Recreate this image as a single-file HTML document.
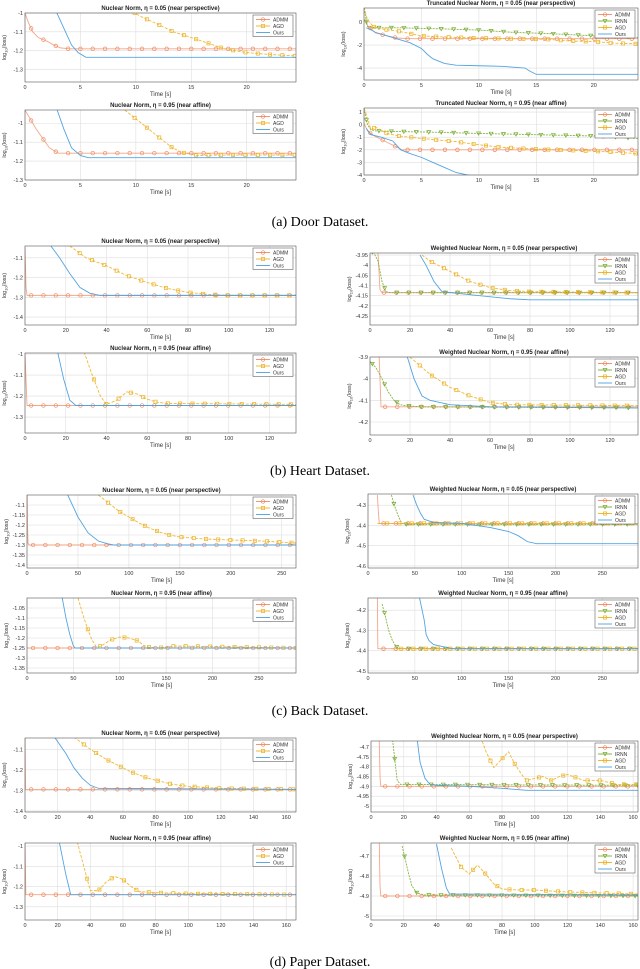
<!DOCTYPE html>
<html><head><meta charset="utf-8">
<style>
html,body{margin:0;padding:0;background:#fff;}
svg{display:block;}
</style></head>
<body>
<svg id="fig" width="640" height="969" viewBox="0 0 640 969" xmlns="http://www.w3.org/2000/svg" font-family="Liberation Sans, DejaVu Sans, sans-serif">
<text x="320" y="226" text-anchor="middle" font-family="Liberation Serif, serif" font-size="14">(a) Door Dataset.</text>
<text x="320" y="475" text-anchor="middle" font-family="Liberation Serif, serif" font-size="14">(b) Heart Dataset.</text>
<text x="320" y="715" text-anchor="middle" font-family="Liberation Serif, serif" font-size="14">(c) Back Dataset.</text>
<text x="320" y="966" text-anchor="middle" font-family="Liberation Serif, serif" font-size="14">(d) Paper Dataset.</text>
</svg>
<script>
// ---------- tick arrays ----------
const xticksDoor = [0,5,10,15,20];
const xticksHeart = [0,20,40,60,80,100,120];
const xticksBack = [0,50,100,150,200,250];
const xticksPaper = [0,20,40,60,80,100,120,140,160];
const yticksDoor1 = [-1,-1.1,-1.2,-1.3];
const yticksDoor2 = [-1,-1.1,-1.2,-1.3];
const yticksDoor3 = [0,-2,-4];
const yticksDoor4 = [1,0,-1,-2,-3,-4];
const yticksHeart1 = [-1.1,-1.2,-1.3,-1.4];
const yticksHeart2 = [-3.95,-4,-4.05,-4.1,-4.15,-4.2,-4.25];
const yticksHeart3 = [-1,-1.1,-1.2,-1.3];
const yticksHeart4 = [-3.9,-4,-4.1,-4.2];
const yticksBack1 = [-1.1,-1.15,-1.2,-1.25,-1.3,-1.35,-1.4];
const yticksBack2 = [-4.3,-4.4,-4.5,-4.6];
const yticksBack3 = [-1.05,-1.1,-1.15,-1.2,-1.25,-1.3,-1.35];
const yticksBack4 = [-4.2,-4.3,-4.4,-4.5];
const yticksPaper1 = [-1.1,-1.2,-1.3,-1.4];
const yticksPaper2 = [-4.7,-4.75,-4.8,-4.85,-4.9,-4.95,-5];
const yticksPaper3 = [-1,-1.1,-1.2,-1.3];
const yticksPaper4 = [-4.7,-4.8,-4.9,-5];

// ---------- series data ----------
const door1_admm_t=[0,0.3,0.7,1.2,2,2.6,3.2,4,24.5];
const door1_admm_y=[-1.0,-1.05,-1.1,-1.13,-1.15,-1.17,-1.185,-1.19,-1.19];
const door1_agd_t=[9,10.5,12,13.4,15,16.5,18,20,22,24.5];
const door1_agd_y=[-0.97,-1.02,-1.06,-1.1,-1.13,-1.16,-1.19,-1.21,-1.22,-1.228];
const door1_ours_t=[2.8,3.5,4.2,4.8,5.5,24.5];
const door1_ours_y=[-0.99,-1.08,-1.17,-1.21,-1.235,-1.235];

const door2_admm_t=[0,0.5,1,1.6,2.2,3,24.5];
const door2_admm_y=[-0.93,-0.98,-1.03,-1.08,-1.13,-1.158,-1.158];
const door2_agd_t=[9,10.5,12,13.3,14.2,15.5,18,24.5];
const door2_agd_y=[-0.93,-1.0,-1.07,-1.13,-1.155,-1.17,-1.168,-1.168];
const door2_ours_t=[2.9,3.5,4.2,5,5.7,24.5];
const door2_ours_y=[-0.93,-1.03,-1.13,-1.17,-1.182,-1.182];

const door3_admm_t=[0,0.3,1,2,3,4,24];
const door3_admm_y=[0.2,-0.3,-0.95,-1.2,-1.4,-1.45,-1.45];
const door3_irnn_t=[0,0.3,1,3,5,7,10,13,16,19,22,24];
const door3_irnn_y=[1.2,-0.4,-0.5,-0.5,-0.55,-0.6,-0.7,-0.9,-1.0,-1.15,-1.25,-1.35];
const door3_agd_t=[0,0.3,0.8,1.5,3,5,7,10,13,16,18,20,22,24];
const door3_agd_y=[1.3,0.2,-0.4,-0.6,-0.8,-1.2,-1.3,-1.4,-1.45,-1.5,-1.65,-1.7,-1.85,-1.9];
const door3_ours_t=[0.2,0.5,1,2,3,4,5,5.5,6,7,8,10,12,14,14.5,15,24];
const door3_ours_y=[-0.5,-0.6,-0.9,-1.2,-1.5,-1.8,-2.3,-2.8,-3.2,-3.6,-3.75,-3.8,-3.85,-4.0,-4.3,-4.55,-4.55];

const door4_admm_t=[0,0.3,1,2,3,3.3,23.9];
const door4_admm_y=[0.1,-0.5,-0.95,-1.4,-1.85,-2,-2];
const door4_irnn_t=[0,0.3,0.6,1,3,6,10,15,20,23.9];
const door4_irnn_y=[1.3,0,-0.4,-0.5,-0.55,-0.6,-0.7,-0.8,-0.9,-1.1];
const door4_agd_t=[0,0.2,0.6,1,2,3,5,8,10,12,15,20,23.9];
const door4_agd_y=[1.3,0.8,-0.4,-0.2,-0.7,-0.9,-1.1,-1.35,-1.6,-1.8,-1.95,-2.1,-2.3];
const door4_ours_t=[0.2,0.6,1.5,2.5,3.2,4,5,6,7,8,9,9.5];
const door4_ours_y=[-0.3,-0.8,-1.0,-1.3,-2.0,-2.3,-2.6,-3.0,-3.4,-3.8,-4.0,-4.05];

const heart1_admm_t=[0,0.5,1,133];
const heart1_admm_y=[-1.05,-1.25,-1.29,-1.29];
const heart1_agd_t=[22,30,40,50,60,70,80,90,100,133];
const heart1_agd_y=[-1.04,-1.1,-1.14,-1.19,-1.225,-1.255,-1.275,-1.285,-1.29,-1.29];
const heart1_ours_t=[12,17,22,27,32,37,133];
const heart1_ours_y=[-1.03,-1.1,-1.18,-1.25,-1.28,-1.29,-1.29];

const heart2_admm_t=[4,5,6,134];
const heart2_admm_y=[-3.94,-4.12,-4.135,-4.135];
const heart2_irnn_t=[0,2,4,6,8,10,134];
const heart2_irnn_y=[-3.93,-3.94,-3.98,-4.08,-4.13,-4.135,-4.135];
const heart2_agd_t=[26,30,40,50,60,70,80,134];
const heart2_agd_y=[-3.95,-3.98,-4.03,-4.08,-4.11,-4.125,-4.13,-4.135];
const heart2_ours_t=[25,28,32,36,50,70,80,134];
const heart2_ours_y=[-3.95,-4.0,-4.08,-4.13,-4.145,-4.165,-4.17,-4.17];

const heart3_admm_t=[0,1,133];
const heart3_admm_y=[-1.0,-1.245,-1.245];
const heart3_agd_t=[29,33,37,40,45,50,55,60,65,70,133];
const heart3_agd_y=[-0.99,-1.1,-1.2,-1.24,-1.22,-1.18,-1.19,-1.215,-1.23,-1.235,-1.24];
const heart3_ours_t=[16,19,22,25,133];
const heart3_ours_y=[-0.99,-1.12,-1.22,-1.245,-1.245];

const heart4_admm_t=[4.5,5,5.5,134];
const heart4_admm_y=[-3.88,-4.0,-4.13,-4.13];
const heart4_irnn_t=[0,3,6,9,12,15,18,25,134];
const heart4_irnn_y=[-3.92,-3.95,-4.0,-4.06,-4.1,-4.12,-4.125,-4.13,-4.135];
const heart4_agd_t=[20,25,30,40,50,60,70,134];
const heart4_agd_y=[-3.9,-3.94,-3.98,-4.04,-4.08,-4.11,-4.12,-4.125];
const heart4_ours_t=[18,22,26,30,40,60,134];
const heart4_ours_y=[-3.88,-4.0,-4.08,-4.1,-4.12,-4.13,-4.135];

const back1_admm_t=[0,0.5,1,2,264];
const back1_admm_y=[-1.0,-1.2,-1.29,-1.3,-1.3];
const back1_agd_t=[70,80,90,100,110,120,130,140,150,175,200,230,264];
const back1_agd_y=[-1.05,-1.09,-1.13,-1.16,-1.19,-1.215,-1.235,-1.25,-1.26,-1.27,-1.275,-1.28,-1.29];
const back1_ours_t=[40,50,60,70,80,85,264];
const back1_ours_y=[-1.05,-1.16,-1.24,-1.28,-1.295,-1.3,-1.3];

const back2_admm_t=[10,11,12,288];
const back2_admm_y=[-4.25,-4.33,-4.39,-4.39];
const back2_irnn_t=[25,28,32,36,40,288];
const back2_irnn_y=[-4.25,-4.3,-4.35,-4.39,-4.395,-4.395];
const back2_agd_t=[10,288];
const back2_agd_y=[-4.39,-4.39];
const back2_ours_t=[48,52,56,60,70,100,130,150,160,170,180,288];
const back2_ours_y=[-4.25,-4.3,-4.34,-4.37,-4.385,-4.39,-4.41,-4.43,-4.45,-4.48,-4.49,-4.49];

const back3_admm_t=[0,290];
const back3_admm_y=[-1.25,-1.25];
const back3_agd_t=[55,60,65,70,75,80,90,100,110,120,125,130,140,160,290];
const back3_agd_y=[-1.0,-1.08,-1.15,-1.21,-1.245,-1.24,-1.21,-1.195,-1.2,-1.215,-1.235,-1.245,-1.25,-1.24,-1.25];
const back3_ours_t=[38,42,46,50,52,290];
const back3_ours_y=[-1.0,-1.1,-1.18,-1.24,-1.25,-1.25];

const back4_admm_t=[10,10.5,288];
const back4_admm_y=[-4.14,-4.39,-4.39];
const back4_irnn_t=[15,18,22,26,30,34,288];
const back4_irnn_y=[-4.17,-4.22,-4.3,-4.35,-4.38,-4.39,-4.39];
const back4_agd_t=[25,288];
const back4_agd_y=[-4.39,-4.39];
const back4_ours_t=[55,60,62,65,70,80,90,288];
const back4_ours_y=[-4.14,-4.25,-4.32,-4.35,-4.37,-4.38,-4.39,-4.39];

const paper1_admm_t=[0,0.3,166];
const paper1_admm_y=[-1.04,-1.295,-1.295];
const paper1_agd_t=[30,40,45,50,55,60,65,70,75,80,90,100,120,140,166];
const paper1_agd_y=[-1.04,-1.1,-1.125,-1.15,-1.17,-1.19,-1.21,-1.225,-1.24,-1.25,-1.27,-1.28,-1.29,-1.292,-1.295];
const paper1_ours_t=[18,25,30,35,40,45,166];
const paper1_ours_y=[-1.04,-1.12,-1.19,-1.24,-1.275,-1.29,-1.295];

const paper2_admm_t=[5,5.5,6,163];
const paper2_admm_y=[-4.65,-4.85,-4.9,-4.9];
const paper2_irnn_t=[13,15,16,18,163];
const paper2_irnn_y=[-4.65,-4.8,-4.87,-4.89,-4.895];
const paper2_agd_t=[67,70,75,80,84,88,92,95,100,105,110,115,120,125,130,140,150,163];
const paper2_agd_y=[-4.65,-4.72,-4.805,-4.76,-4.725,-4.79,-4.84,-4.87,-4.86,-4.85,-4.87,-4.85,-4.84,-4.855,-4.87,-4.87,-4.89,-4.89];
const paper2_ours_t=[28,30,33,36,40,60,80,95,163];
const paper2_ours_y=[-4.65,-4.78,-4.86,-4.89,-4.895,-4.9,-4.91,-4.92,-4.92];

const paper3_admm_t=[0,0.5,166];
const paper3_admm_y=[-0.985,-1.24,-1.24];
const paper3_agd_t=[32,36,40,45,50,55,60,65,70,80,100,166];
const paper3_agd_y=[-0.98,-1.1,-1.22,-1.22,-1.175,-1.15,-1.165,-1.2,-1.225,-1.23,-1.235,-1.24];
const paper3_ours_t=[21,25,28,166];
const paper3_ours_y=[-0.98,-1.14,-1.24,-1.24];

const paper4_admm_t=[5,5.5,6,163];
const paper4_admm_y=[-4.6,-4.85,-4.9,-4.9];
const paper4_irnn_t=[19,21,23,25,28,32,163];
const paper4_irnn_y=[-4.65,-4.72,-4.79,-4.85,-4.885,-4.895,-4.9];
const paper4_agd_t=[49,55,60,65,70,75,80,90,100,120,140,163];
const paper4_agd_y=[-4.66,-4.755,-4.79,-4.745,-4.79,-4.84,-4.865,-4.87,-4.87,-4.88,-4.885,-4.89];
const paper4_ours_t=[40,43,46,48,163];
const paper4_ours_y=[-4.64,-4.76,-4.86,-4.89,-4.895];

// ---------- rendering ----------
const NS='http://www.w3.org/2000/svg';
const svg=document.getElementById('fig');
const STY={
  ADMM:{c:'#ef8a62',m:'o',dash:'',op:0.75},
  IRNN:{c:'#77ac30',m:'v',dash:'2,1',op:0.9},
  AGD:{c:'#edb120',m:'s',dash:'3,1.5',op:0.9},
  Ours:{c:'#4a9fe0',m:'',dash:'',op:0.95}
};
function mk(tag,attrs,parent){const e=document.createElementNS(NS,tag);for(const k in attrs)e.setAttribute(k,attrs[k]);(parent||svg).appendChild(e);return e;}
const NP='(near perspective)', NA='(near affine)';
const panels=[
 {id:'door-np',title:'Nuclear Norm, η = 0.05 '+NP,L:25,R:296,T:13,B:82,xmax:24.45,ymin:-1.366,ymax:-1.0,xt:xticksDoor,yt:yticksDoor1,s:[['ADMM',door1_admm_t,door1_admm_y],['AGD',door1_agd_t,door1_agd_y],['Ours',door1_ours_t,door1_ours_y]]},
 {id:'door-af',title:'Nuclear Norm, η = 0.95 '+NA,L:25,R:296,T:110,B:180,xmax:24.45,ymin:-1.3,ymax:-0.93,xt:xticksDoor,yt:yticksDoor2,s:[['ADMM',door2_admm_t,door2_admm_y],['AGD',door2_agd_t,door2_agd_y],['Ours',door2_ours_t,door2_ours_y]]},
 {id:'door-tnn-np',title:'Truncated Nuclear Norm, η = 0.05 '+NP,L:364,R:638,T:8,B:80,xmax:23.85,ymin:-5.04,ymax:1.22,xt:xticksDoor,yt:yticksDoor3,s:[['ADMM',door3_admm_t,door3_admm_y],['IRNN',door3_irnn_t,door3_irnn_y],['AGD',door3_agd_t,door3_agd_y],['Ours',door3_ours_t,door3_ours_y]]},
 {id:'door-tnn-af',title:'Truncated Nuclear Norm, η = 0.95 '+NA,L:364,R:638,T:108,B:175,xmax:23.85,ymin:-4,ymax:1.32,xt:xticksDoor,yt:yticksDoor4,s:[['ADMM',door4_admm_t,door4_admm_y],['IRNN',door4_irnn_t,door4_irnn_y],['AGD',door4_agd_t,door4_agd_y],['Ours',door4_ours_t,door4_ours_y]]},
 {id:'heart-np',title:'Nuclear Norm, η = 0.05 '+NP,L:25,R:296,T:246,B:325,xmax:133,ymin:-1.44,ymax:-1.04,xt:xticksHeart,yt:yticksHeart1,s:[['ADMM',heart1_admm_t,heart1_admm_y],['AGD',heart1_agd_t,heart1_agd_y],['Ours',heart1_ours_t,heart1_ours_y]]},
 {id:'heart-wnn-np',title:'Weighted Nuclear Norm, η = 0.05 '+NP,L:370,R:638,T:253,B:325,xmax:134,ymin:-4.294,ymax:-3.94,xt:xticksHeart,yt:yticksHeart2,s:[['ADMM',heart2_admm_t,heart2_admm_y],['IRNN',heart2_irnn_t,heart2_irnn_y],['AGD',heart2_agd_t,heart2_agd_y],['Ours',heart2_ours_t,heart2_ours_y]]},
 {id:'heart-af',title:'Nuclear Norm, η = 0.95 '+NA,L:25,R:296,T:353,B:433,xmax:133,ymin:-1.376,ymax:-0.995,xt:xticksHeart,yt:yticksHeart3,s:[['ADMM',heart3_admm_t,heart3_admm_y],['AGD',heart3_agd_t,heart3_agd_y],['Ours',heart3_ours_t,heart3_ours_y]]},
 {id:'heart-wnn-af',title:'Weighted Nuclear Norm, η = 0.95 '+NA,L:370,R:638,T:357,B:435,xmax:134,ymin:-4.26,ymax:-3.9,xt:xticksHeart,yt:yticksHeart4,s:[['ADMM',heart4_admm_t,heart4_admm_y],['IRNN',heart4_irnn_t,heart4_irnn_y],['AGD',heart4_agd_t,heart4_agd_y],['Ours',heart4_ours_t,heart4_ours_y]]},
 {id:'back-np',title:'Nuclear Norm, η = 0.05 '+NP,L:27,R:296,T:495,B:568,xmax:264,ymin:-1.415,ymax:-1.05,xt:xticksBack,yt:yticksBack1,s:[['ADMM',back1_admm_t,back1_admm_y],['AGD',back1_agd_t,back1_agd_y],['Ours',back1_ours_t,back1_ours_y]]},
 {id:'back-wnn-np',title:'Weighted Nuclear Norm, η = 0.05 '+NP,L:368,R:638,T:494,B:568,xmax:288,ymin:-4.61,ymax:-4.245,xt:xticksBack,yt:yticksBack2,s:[['ADMM',back2_admm_t,back2_admm_y],['IRNN',back2_irnn_t,back2_irnn_y],['AGD',back2_agd_t,back2_agd_y],['Ours',back2_ours_t,back2_ours_y]]},
 {id:'back-af',title:'Nuclear Norm, η = 0.95 '+NA,L:27,R:296,T:598,B:673,xmax:290,ymin:-1.375,ymax:-1.0,xt:xticksBack,yt:yticksBack3,s:[['ADMM',back3_admm_t,back3_admm_y],['AGD',back3_agd_t,back3_agd_y],['Ours',back3_ours_t,back3_ours_y]]},
 {id:'back-wnn-af',title:'Weighted Nuclear Norm, η = 0.95 '+NA,L:368,R:638,T:598,B:673,xmax:288,ymin:-4.51,ymax:-4.14,xt:xticksBack,yt:yticksBack4,s:[['ADMM',back4_admm_t,back4_admm_y],['IRNN',back4_irnn_t,back4_irnn_y],['AGD',back4_agd_t,back4_agd_y],['Ours',back4_ours_t,back4_ours_y]]},
 {id:'paper-np',title:'Nuclear Norm, η = 0.05 '+NP,L:25,R:296,T:738,B:812,xmax:166,ymin:-1.405,ymax:-1.045,xt:xticksPaper,yt:yticksPaper1,s:[['ADMM',paper1_admm_t,paper1_admm_y],['AGD',paper1_agd_t,paper1_agd_y],['Ours',paper1_ours_t,paper1_ours_y]]},
 {id:'paper-wnn-np',title:'Weighted Nuclear Norm, η = 0.05 '+NP,L:371,R:638,T:741,B:812,xmax:163,ymin:-5.03,ymax:-4.67,xt:xticksPaper,yt:yticksPaper2,s:[['ADMM',paper2_admm_t,paper2_admm_y],['IRNN',paper2_irnn_t,paper2_irnn_y],['AGD',paper2_agd_t,paper2_agd_y],['Ours',paper2_ours_t,paper2_ours_y]]},
 {id:'paper-af',title:'Nuclear Norm, η = 0.95 '+NA,L:25,R:296,T:843,B:920,xmax:166,ymin:-1.365,ymax:-0.985,xt:xticksPaper,yt:yticksPaper3,s:[['ADMM',paper3_admm_t,paper3_admm_y],['AGD',paper3_agd_t,paper3_agd_y],['Ours',paper3_ours_t,paper3_ours_y]]},
 {id:'paper-wnn-af',title:'Weighted Nuclear Norm, η = 0.95 '+NA,L:371,R:638,T:843,B:920,xmax:163,ymin:-5.02,ymax:-4.635,xt:xticksPaper,yt:yticksPaper4,s:[['ADMM',paper4_admm_t,paper4_admm_y],['IRNN',paper4_irnn_t,paper4_irnn_y],['AGD',paper4_agd_t,paper4_agd_y],['Ours',paper4_ours_t,paper4_ours_y]]}
];
function interp(ts,ys,t){if(t<ts[0]||t>ts[ts.length-1])return null;for(let i=1;i<ts.length;i++){if(t<=ts[i]){const f=(t-ts[i-1])/((ts[i]-ts[i-1])||1);return ys[i-1]+f*(ys[i]-ys[i-1]);}}return ys[ys.length-1];}
function marker(g,type,x,y,c){
  let e;
  if(type==='o'){e=mk('circle',{cx:x,cy:y,r:1.8,fill:'none',stroke:c,'stroke-width':0.7},g);}
  else if(type==='s'){e=mk('rect',{x:x-1.6,y:y-1.6,width:3.2,height:3.2,fill:'none',stroke:c,'stroke-width':0.7},g);}
  else if(type==='v'){e=mk('path',{d:`M${x-1.9},${y-1.5}L${x+1.9},${y-1.5}L${x},${y+1.8}Z`,fill:'none',stroke:c,'stroke-width':0.7},g);}
  if(e){
  }
}
panels.forEach((p,pi)=>{
  const g=mk('g',{});
  
  
  const X=t=>p.L+(t/p.xmax)*(p.R-p.L);
  const Y=v=>p.B-(v-p.ymin)/(p.ymax-p.ymin)*(p.B-p.T);
  mk('rect',{x:p.L,y:p.T,width:p.R-p.L,height:p.B-p.T,fill:'#fff'},g);
  p.xt.forEach(t=>{
    const l=mk('line',{x1:X(t),x2:X(t),y1:p.T,y2:p.B,stroke:'#dedede','stroke-width':0.6},g);
    
    
    const tx=mk('text',{x:X(t),y:p.B+7,'font-size':5.5,'text-anchor':'middle',fill:'#333'},g);
    tx.textContent=String(t);
    
    
  });
  p.yt.forEach(v=>{
    const l=mk('line',{x1:p.L,x2:p.R,y1:Y(v),y2:Y(v),stroke:'#dedede','stroke-width':0.6},g);
    
    
    const tx=mk('text',{x:p.L-2,y:Y(v)+2,'font-size':5.5,'text-anchor':'end',fill:'#333'},g);
    tx.textContent=String(v);
    
    
  });
  const cid='clip'+pi;
  const cp=mk('clipPath',{id:cid},g);
  mk('rect',{x:p.L,y:p.T,width:p.R-p.L,height:p.B-p.T},cp);
  const sg=mk('g',{'clip-path':`url(#${cid})`},g);
  p.s.forEach(([name,ts,ys])=>{
    const st=STY[name];
    const d=ts.map((t,i)=>(i?'L':'M')+X(t).toFixed(2)+','+Y(ys[i]).toFixed(2)).join('');
    const path=mk('path',{d:d,fill:'none',stroke:st.c,'stroke-width':0.9,'stroke-dasharray':st.dash,opacity:st.op},sg);
    
    
    if(st.m){
      const step=p.xmax/22;
      const off={ADMM:0.5,IRNN:0.2,AGD:0.8}[name]*step;
      for(let t=ts[0]+off;t<=ts[ts.length-1];t+=step){
        const v=interp(ts,ys,t); if(v===null)continue;
        const yy=Y(v); if(yy<p.T-2||yy>p.B+2)continue;
        marker(sg,st.m,X(t),yy,st.c);
      }
    }
  });
  const fr=mk('rect',{x:p.L,y:p.T,width:p.R-p.L,height:p.B-p.T,fill:'none',stroke:'#555','stroke-width':0.6},g);
  
  
  const ti=mk('text',{x:(p.L+p.R)/2,y:p.T-3,'font-size':6,'font-weight':'bold','text-anchor':'middle',fill:'#222'},g);
  ti.textContent=p.title;
  
  
  const xl=mk('text',{x:(p.L+p.R)/2,y:p.B+14,'font-size':6,'text-anchor':'middle',fill:'#333'},g);
  xl.textContent='Time [s]';
  
  
  const yx=p.L-19, yy=(p.T+p.B)/2;
  const yl=mk('text',{x:yx,y:yy,'font-size':5.5,'text-anchor':'middle',fill:'#333',transform:`rotate(-90 ${yx} ${yy})`},g);
  yl.innerHTML='log<tspan font-size="4" dy="1.5">10</tspan><tspan dy="-1.5">(loss)</tspan>';
  
  
  const n=p.s.length, lw=40, lh=n*6.5+2;
  const lx=p.R-lw-3, ly=p.T+2;
  const lg=mk('g',{},g);
  
  
  mk('rect',{x:lx,y:ly,width:lw,height:lh,fill:'#fff',stroke:'#444','stroke-width':0.5},lg);
  p.s.forEach(([name],i)=>{
    const st=STY[name];
    const cy=ly+4.5+i*6.5;
    const le=mk('g',{},lg);
    
    
    mk('line',{x1:lx+3,x2:lx+17,y1:cy,y2:cy,stroke:st.c,'stroke-width':0.9},le);
    if(st.m)marker(le,st.m,lx+10,cy,st.c);
    const t=mk('text',{x:lx+20,y:cy+1.8,'font-size':5,fill:'#333'},le);
    t.textContent=name;
  });
});
</script>
</body></html>
